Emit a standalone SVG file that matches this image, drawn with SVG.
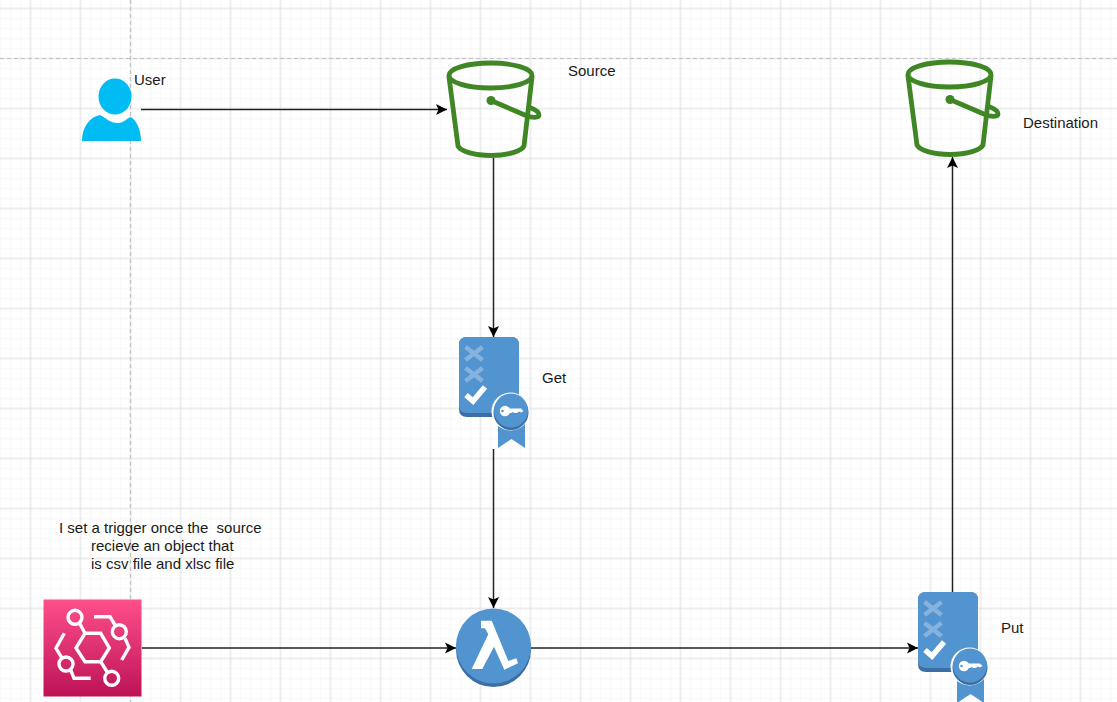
<svg xmlns="http://www.w3.org/2000/svg" width="1117" height="702" viewBox="0 0 1117 702">
<style>
text{font-family:"Liberation Sans",Arial,sans-serif;font-size:15px;fill:#1a1a1a;white-space:pre}
.conn{fill:none;stroke:#222;stroke-width:1.5}
.head{fill:#000}
.bkt{fill:none;stroke:#3f8624;stroke-width:4.800;stroke-linejoin:round;stroke-linecap:round}
</style>
<defs>
<pattern id="grid" x="5.500" y="-16.500" width="50" height="50" patternUnits="userSpaceOnUse">
<path d="M5 0V50M15 0V50M35 0V50M45 0V50M0 5H50M0 15H50M0 35H50M0 45H50" fill="none" stroke="#f5f5f5" stroke-width="1"/>
<path d="M25 0V50M0 25H50" fill="none" stroke="#dcdcdc" stroke-width="1"/>
</pattern>
<marker id="arrow" markerUnits="userSpaceOnUse" markerWidth="14" markerHeight="14" refX="12" refY="7" orient="auto"><path class="head" d="M1 1.500L12 7L1 12.500L3.500 7Z"/></marker>
<g id="bucket">
<path class="bkt" d="M449 77L458 146C460 151 474 155.500 491 155.500C508 155.500 522 151 524 146L532 77"/>
<ellipse class="bkt" cx="490.500" cy="75.500" rx="41.500" ry="12.500"/>
<circle cx="491" cy="100.500" r="4.500" fill="#3f8624"/>
<path class="bkt" d="M491 100.500L526 115.500C532 118 539 118 539 115C539 112 535 109.500 531 108"/>
</g>
<g id="badge">
<path d="M0 8Q0 0 8 0H52Q60 0 60 8V72Q60 80 52 80H8Q0 80 0 72Z" fill="#3b6ea5"/>
<path d="M0 8Q0 0 8 0H52Q60 0 60 8V68Q60 76 52 76H8Q0 76 0 68Z" fill="#5294cf"/>
<path d="M6.500 10L23.500 23M23.500 10L6.500 23M6.500 31L23.500 44M23.500 31L6.500 44" stroke="#86b3dd" stroke-width="4.500" fill="none"/>
<path d="M7 58L14 64L26 50" stroke="#fff" stroke-width="5.500" fill="none"/>
<path d="M39 84H66V111L52.500 102L39 111Z" fill="#5294cf"/>
<circle cx="51.500" cy="74.500" r="19" fill="#fff"/>
<circle cx="52" cy="75.500" r="17.500" fill="#3b6ea5"/>
<circle cx="52" cy="73.500" r="17" fill="#5294cf"/>
<circle cx="46" cy="74" r="5.200" fill="#fff"/>
<circle cx="43.500" cy="74" r="1.300" fill="#5294cf"/>
<path d="M49 71.500H62L64.500 74L62 75.500L60 74.500L58 76H55L54 75L52 76H49Z" fill="#fff"/>
</g>
<linearGradient id="eb" x1="0" y1="0" x2="0" y2="1"><stop offset="0" stop-color="#ff4f8b"/><stop offset="1" stop-color="#bc1356"/></linearGradient>
</defs>
<rect width="1117" height="702" fill="#fff"/>
<rect x="0" y="0" width="1117" height="702" fill="url(#grid)"/>
<path d="M0 58.500H1117M130.500 0V702" fill="none" stroke="#c4c4c4" stroke-width="1.200" stroke-dasharray="4 3"/>

<g id="connectors">
<path class="conn" d="M141 109.500H447" marker-end="url(#arrow)"/>
<path class="conn" d="M493.500 158V337" marker-end="url(#arrow)"/>
<path class="conn" d="M493.500 449V608" marker-end="url(#arrow)"/>
<path class="conn" d="M142 648H456" marker-end="url(#arrow)"/>
<path class="conn" d="M531 648H918" marker-end="url(#arrow)"/>
<path class="conn" d="M952.500 592V157" marker-end="url(#arrow)"/>
</g>

<g id="user">
<ellipse cx="115" cy="96.500" rx="16.500" ry="18" fill="#00bcf2"/>
<path d="M82 141C82 128 89 117 100 115C106 118 110 123 118 123C124 123 127 118 131 117C137 121 141 130 141 141Z" fill="#00bcf2"/>
<text x="134" y="85">User</text>
</g>

<g id="source">
<use href="#bucket"/>
<text x="568" y="76">Source</text>
</g>

<g id="destination">
<use href="#bucket" x="459" y="-1"/>
<text x="1023" y="128">Destination</text>
</g>

<g id="get">
<use href="#badge" x="459" y="337"/>
<text x="542" y="383">Get</text>
</g>

<g id="put">
<use href="#badge" x="918" y="592"/>
<text x="1001" y="633">Put</text>
</g>

<g id="trigger">
<rect x="43.500" y="599.500" width="98" height="97" fill="url(#eb)"/>
<g fill="none" stroke="#fff" stroke-width="3.400">
<path d="M85 633.300H100.700L109.300 648L100.700 661.700H85L76 648Z"/>
<circle cx="75" cy="617.300" r="7"/><path d="M79.500 623L85 633.300"/>
<circle cx="111.700" cy="678.300" r="7"/><path d="M100.700 661.700L107.500 672.500"/>
<path d="M94 616.700H110L115 625"/><circle cx="119.300" cy="631.700" r="7"/><path d="M125 638.300L129 647.300L121.700 660"/>
<path d="M64.300 633.300L56 648.300L61.700 657.700"/><circle cx="66" cy="664" r="7"/><path d="M70.700 670L74 678.300H90.700"/>
</g>
</g>

<g id="lambda">
<circle cx="493.500" cy="649.500" r="37.500" fill="#3b6ea5"/>
<circle cx="493.500" cy="646" r="37.500" fill="#5294cf"/>
<path d="M481 620.700H491.700L508.300 661L516.300 658.300L518 663.300L504.300 669.700L494 646.700L482.300 669H471.700L488.300 634.300L485 628.300H481Z" fill="#fff"/>
</g>

<g id="note">
<text x="59" y="533">I set a trigger once the  source</text>
<text x="91" y="551">recieve an object that</text>
<text x="91" y="569">is csv file and xlsc file</text>
</g>
</svg>
